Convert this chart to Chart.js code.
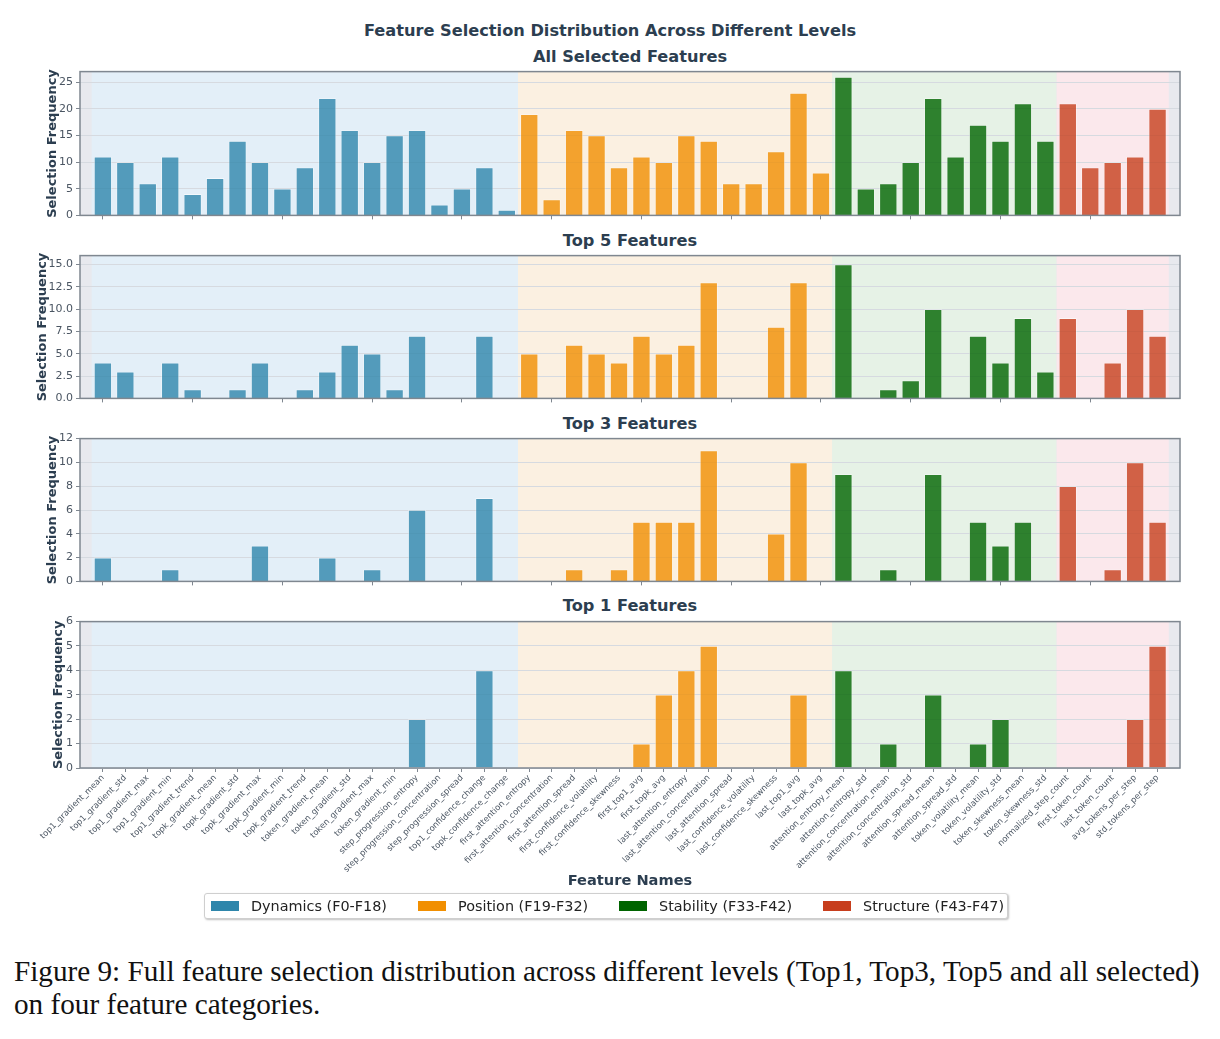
<!DOCTYPE html>
<html>
<head>
<meta charset="utf-8">
<script src="https://cdn.jsdelivr.net/npm/chart.js@4.4.1/dist/chart.umd.min.js"></script>
<style>
  html,body{margin:0;padding:0;background:#fff;}
  body{width:1220px;height:1039px;position:relative;overflow:hidden;font-family:'DejaVu Sans',sans-serif;}
  .ttl{position:absolute;text-align:center;font-weight:bold;color:#2c3e50;white-space:nowrap;line-height:1;}
  canvas{position:absolute;left:0;}
  #legend{position:absolute;left:204px;top:893px;width:802px;height:24px;border:1px solid #cfcfcf;border-radius:3px;
    box-shadow:1px 1px 2px rgba(0,0,0,0.25);background:#fff;font-size:14.4px;color:#222;}
  .li{position:absolute;top:0;height:24px;line-height:24px;white-space:nowrap;}
  .sw{position:absolute;top:7px;width:28px;height:10px;}
  #caption{position:absolute;left:14px;top:955px;width:1210px;font-family:'Liberation Serif','Times New Roman',serif;font-size:29.2px;line-height:33px;color:#111;white-space:nowrap;}
</style>
</head>
<body>
<div class="ttl" style="left:0;width:1220px;top:23px;font-size:16.2px;">Feature Selection Distribution Across Different Levels</div>
<div class="ttl" style="left:80px;width:1100px;top:49px;font-size:16.2px;">All Selected Features</div>
<div class="ttl" style="left:80px;width:1100px;top:233px;font-size:16.2px;">Top 5 Features</div>
<div class="ttl" style="left:80px;width:1100px;top:416px;font-size:16.2px;">Top 3 Features</div>
<div class="ttl" style="left:80px;width:1100px;top:598px;font-size:16.2px;">Top 1 Features</div>
<canvas id="c1" width="1220" height="163" style="top:62px"></canvas>
<canvas id="c2" width="1220" height="162" style="top:246px"></canvas>
<canvas id="c3" width="1220" height="162" style="top:429px"></canvas>
<canvas id="c4" width="1220" height="280" style="top:612px"></canvas>
<div class="ttl" style="left:80px;width:1100px;top:873px;font-size:14.6px;">Feature Names</div>
<div id="legend"></div>
<div id="caption">Figure 9: Full feature selection distribution across different levels (Top1, Top3, Top5 and all selected)<br>on four feature categories.</div>
<script>
// ---------------- DATA ----------------
const featureNames = [
  'top1_gradient_mean','top1_gradient_std','top1_gradient_max','top1_gradient_min','top1_gradient_trend',
  'topk_gradient_mean','topk_gradient_std','topk_gradient_max','topk_gradient_min','topk_gradient_trend',
  'token_gradient_mean','token_gradient_std','token_gradient_max','token_gradient_min',
  'step_progression_entropy','step_progression_concentration','step_progression_spread',
  'top1_confidence_change','topk_confidence_change',
  'first_attention_entropy','first_attention_concentration','first_attention_spread',
  'first_confidence_volatility','first_confidence_skewness','first_top1_avg','first_topk_avg',
  'last_attention_entropy','last_attention_concentration','last_attention_spread',
  'last_confidence_volatility','last_confidence_skewness','last_top1_avg','last_topk_avg',
  'attention_entropy_mean','attention_entropy_std','attention_concentration_mean','attention_concentration_std',
  'attention_spread_mean','attention_spread_std','token_volatility_mean','token_volatility_std',
  'token_skewness_mean','token_skewness_std',
  'normalized_step_count','first_token_count','last_token_count','avg_tokens_per_step','std_tokens_per_step'
];
const groupNames = ['Dynamics (F0-F18)','Position (F19-F32)','Stability (F33-F42)','Structure (F43-F47)'];
const groupStart = [0, 19, 33, 43];
const groupEnd   = [18, 32, 42, 47];

const allSelected = [11,10,6,11,4,7,14,10,5,9,22,16,10,15,16,2,5,9,1,
                     19,3,16,15,9,11,10,15,14,6,6,12,23,8,
                     26,5,6,10,22,11,17,14,21,14,
                     21,9,10,11,20];
const top5 = [4,3,0,4,1,0,1,4,0,1,3,6,5,1,7,0,0,7,0,
              5,0,6,5,4,7,5,6,13,0,0,8,13,0,
              15,0,1,2,10,0,7,4,9,3,
              9,0,4,10,7];
const top3 = [2,0,0,1,0,0,0,3,0,0,2,0,1,0,6,0,0,7,0,
              0,0,1,0,1,5,5,5,11,0,0,4,10,0,
              9,0,1,0,9,0,5,3,5,0,
              8,0,1,10,5];
const top1 = [0,0,0,0,0,0,0,0,0,0,0,0,0,0,2,0,0,4,0,
              0,0,0,0,0,1,3,4,5,0,0,0,3,0,
              4,0,1,0,3,0,1,2,0,0,
              0,0,0,2,5];

const yMax  = [27, 16, 12, 6];
const yStep = [5, 2.5, 2, 1];

// ---------------- STYLE ----------------
const groupColors = ['#2E86AB', '#F18F01', '#006400', '#C73E1D'];
const barColors   = ['rgba(46,134,171,0.8)', 'rgba(241,143,1,0.8)', 'rgba(0,100,0,0.8)', 'rgba(199,62,29,0.8)'];
const shadeColors = ['#e3eff8', '#fbf0e1', '#e6f2e6', '#fbe8ec'];
const axesBg = '#e8e9ee';
const frameColor = '#7f8790';
const padLeft = [41, 31, 41, 47];

function groupOf(i){ for (let g = 0; g < 4; g++) if (i >= groupStart[g] && i <= groupEnd[g]) return g; return 0; }

const shadePlugin = {
  id: 'shade',
  beforeDraw(chart) {
    const {ctx, chartArea: a, scales: {x}} = chart;
    ctx.save();
    ctx.fillStyle = axesBg;
    ctx.fillRect(a.left, a.top, a.right - a.left, a.bottom - a.top);
    for (let g = 0; g < 4; g++) {
      const l = x.getPixelForValue(groupStart[g] - 0.5);
      const r = x.getPixelForValue(groupEnd[g] + 0.5);
      ctx.fillStyle = shadeColors[g];
      ctx.fillRect(l, a.top, r - l, a.bottom - a.top);
    }
    ctx.restore();
  },
  afterDraw(chart) {
    const {ctx, chartArea: a} = chart;
    ctx.save();
    ctx.strokeStyle = frameColor;
    ctx.lineWidth = 1.5;
    ctx.strokeRect(a.left, a.top, a.right - a.left, a.bottom - a.top);
    ctx.restore();
  }
};

function makeChart(id, values, panel, isBottom) {
  const step = yStep[panel];
  const max = yMax[panel];
  return new Chart(document.getElementById(id), {
    type: 'bar',
    data: {
      datasets: [{
        data: values.map((v, i) => ({x: i, y: v === 0 ? null : v})),
        backgroundColor: values.map((v, i) => barColors[groupOf(i)]),
        borderColor: 'rgba(255,255,255,0.55)',
        borderWidth: 0.8,
        borderSkipped: 'start',
        barPercentage: 0.8,
        categoryPercentage: 1.0
      }]
    },
    options: {
      responsive: false,
      animation: false,
      devicePixelRatio: 1,
      layout: {padding: {left: padLeft[panel], right: 40, top: 8, bottom: isBottom ? 17 : 0}},
      plugins: {legend: {display: false}, tooltip: {enabled: false}, title: {display: false}},
      scales: {
        x: {
          type: 'linear',
          offset: false,
          min: -1.02, max: 48.0,
          border: {display: false},
          grid: {display: true, offset: false, drawOnChartArea: false, drawTicks: true, tickLength: 4, tickColor: frameColor},
          afterBuildTicks: (s) => {
            s.ticks = featureNames.map((_, i) => ({value: i})).filter(t => isBottom || t.value % 4 === 0);
          },
          afterFit: (s) => { s.height = isBottom ? 107 : 6; },
          ticks: {
            display: isBottom,
            autoSkip: false,
            maxRotation: 45, minRotation: 45,
            padding: 1,
            font: {family: 'DejaVu Sans', size: 8.4},
            color: '#4a5562',
            callback: (v) => featureNames[v] ?? ''
          }
        },
        y: {
          min: 0, max: max,
          border: {display: false},
          grid: {color: '#d6dae0', lineWidth: 1, drawTicks: true, tickLength: 4, tickColor: frameColor},
          afterBuildTicks: (s) => {
            const t = [];
            for (let k = 0; k * step <= max + 1e-9; k++) t.push({value: k * step});
            s.ticks = t;
          },
          afterFit: (s) => { s.width = 80 - padLeft[panel]; },
          ticks: {
            padding: 3,
            font: {family: 'DejaVu Sans', size: 11},
            color: '#4a5562',
            callback: (v) => panel === 1 ? Number(v).toFixed(1) : String(v)
          },
          title: {
            display: true,
            text: 'Selection Frequency',
            color: '#2c3e50',
            font: {family: 'DejaVu Sans', size: 13, weight: 'bold'},
            padding: {top: 4, bottom: 4}
          }
        }
      }
    },
    plugins: [shadePlugin]
  });
}

makeChart('c1', allSelected, 0, false);
makeChart('c2', top5, 1, false);
makeChart('c3', top3, 2, false);
makeChart('c4', top1, 3, true);

// legend
const legendX = [6, 213, 414, 618];
const legend = document.getElementById('legend');
groupNames.forEach((n, g) => {
  const sw = document.createElement('div');
  sw.className = 'sw';
  sw.style.left = legendX[g] + 'px';
  sw.style.background = groupColors[g];
  legend.appendChild(sw);
  const t = document.createElement('div');
  t.className = 'li';
  t.style.left = (legendX[g] + 40) + 'px';
  t.textContent = n;
  legend.appendChild(t);
});
</script>
</body>
</html>
